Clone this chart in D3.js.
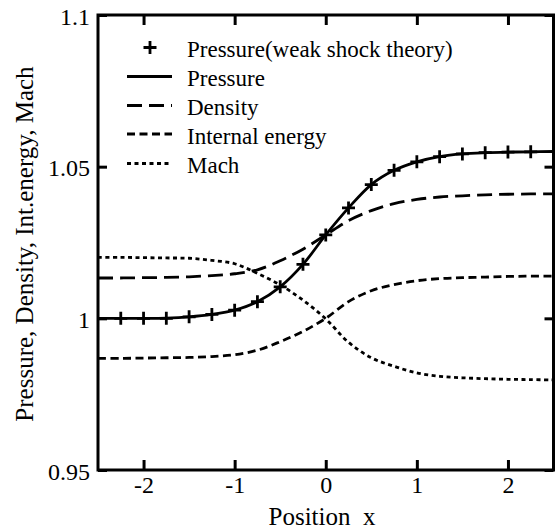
<!DOCTYPE html>
<html>
<head>
<meta charset="utf-8">
<script src="https://cdn.jsdelivr.net/npm/d3@7"></script>
<style>
  html, body { margin: 0; padding: 0; background: #fff; }
  svg { display: block; }
</style>
</head>
<body>
<svg id="chart" width="555" height="529"></svg>
<script>
// ---------- data ----------
const xs = [-2.5, -2.25, -2, -1.75, -1.5, -1.25, -1, -0.75, -0.5, -0.25, 0,
            0.25, 0.5, 0.75, 1, 1.25, 1.5, 1.75, 2, 2.25, 2.5];
const pressure = [1.0, 1.0, 1.0, 1.0001, 1.0005, 1.0013, 1.0027, 1.0055, 1.0104, 1.0178, 1.0275,
                  1.0364, 1.0441, 1.0488, 1.0516, 1.0533, 1.0542, 1.0546, 1.0548, 1.0549, 1.055];
const density = [1.0133, 1.0133, 1.0134, 1.0135, 1.0137, 1.0141, 1.0147, 1.0160, 1.0190, 1.0228, 1.0275,
                 1.0322, 1.0355, 1.0378, 1.0392, 1.0400, 1.0404, 1.0407, 1.0409, 1.0410, 1.0410];
const internalEnergy = [0.9868, 0.9868, 0.9869, 0.9870, 0.9871, 0.9874, 0.9880, 0.9895, 0.9923, 0.9957, 1.0,
                        1.0055, 1.0091, 1.0111, 1.0124, 1.0131, 1.0134, 1.0136, 1.0138, 1.0139, 1.0139];
const mach = [1.0201, 1.0201, 1.0200, 1.0199, 1.0198, 1.0191, 1.0180, 1.0148, 1.0110, 1.0060, 0.9998,
              0.9921, 0.9870, 0.9842, 0.9820, 0.9809, 0.9804, 0.9801, 0.9799, 0.9798, 0.9797];
// weak-shock-theory pressure markers
const markerX = [-2.25, -2, -1.75, -1.5, -1.25, -1, -0.75, -0.5, -0.25, 0,
                 0.25, 0.5, 0.75, 1, 1.25, 1.5, 1.75, 2, 2.25];
const markerP = [1.0, 1.0, 1.0, 1.0005, 1.0013, 1.0027, 1.0055, 1.0104, 1.0178, 1.0275,
                 1.0364, 1.0441, 1.0488, 1.0516, 1.0533, 1.0542, 1.0546, 1.0548, 1.0549];
const xTicks = [-2, -1, 0, 1, 2];
const yTicks = [0.95, 1, 1.05, 1.1];
const yTickLabels = ["0.95", "1", "1.05", "1.1"];
const legendLabels = ["Pressure(weak shock theory)", "Pressure", "Density", "Internal energy", "Mach"];
const xTitle = "Position  x";
const yTitle = "Pressure, Density, Int.energy, Mach";

// ---------- layout ----------
const FONT = "'Liberation Serif', 'Times New Roman', Times, 'DejaVu Serif', serif";
const L = 98, R = 553.5, T = 15, B = 470;
const svg = d3.select("#chart").style("font-family", FONT);
const x = d3.scaleLinear().domain([-2.5, 2.5]).range([L, R]);
const y = d3.scaleLinear().domain([0.95, 1.1]).range([B, T]);

svg.append("defs").append("clipPath").attr("id", "clip")
  .append("rect").attr("x", L).attr("y", T).attr("width", R - L).attr("height", B - T);

const tickFont = 24;

function styleAxis(g) {
  g.attr("font-family", null).attr("font-size", null);
  g.select(".domain").remove();
  g.selectAll(".tick line").attr("stroke", "#000").attr("stroke-width", 3);
  g.selectAll(".tick text").attr("fill", "#000")
    .style("font-size", tickFont + "px").style("font-family", FONT);
}
const fmtY = d => yTickLabels[yTicks.indexOf(d)];
const fmtX = d => (d < 0 ? "-" + Math.abs(d) : String(d));

svg.append("g").attr("transform", `translate(0,${B})`)
  .call(d3.axisBottom(x).tickValues(xTicks).tickFormat(fmtX).tickSizeInner(-10).tickSizeOuter(0).tickPadding(6))
  .call(styleAxis);
svg.append("g").attr("transform", `translate(0,${T})`)
  .call(d3.axisTop(x).tickValues(xTicks).tickFormat("").tickSizeInner(-10).tickSizeOuter(0))
  .call(styleAxis);
svg.append("g").attr("transform", `translate(${L},0)`)
  .call(d3.axisLeft(y).tickValues(yTicks).tickFormat(fmtY).tickSizeInner(-9).tickSizeOuter(0).tickPadding(8))
  .call(styleAxis)
  .call(g => g.selectAll(".tick text").attr("dy", "0.38em"));
svg.append("g").attr("transform", `translate(${R},0)`)
  .call(d3.axisRight(y).tickValues(yTicks).tickFormat("").tickSizeInner(-9).tickSizeOuter(0))
  .call(styleAxis);

// frame
svg.append("rect").attr("x", L).attr("y", T).attr("width", R - L).attr("height", B - T)
  .attr("fill", "none").attr("stroke", "#000").attr("stroke-width", 3);

// curves
const plot = svg.append("g").attr("clip-path", "url(#clip)");
const series = [
  { vals: pressure, dash: null },
  { vals: density, dash: "15,7" },
  { vals: internalEnergy, dash: "8,4.5" },
  { vals: mach, dash: "4,3.5" }
];
const line = d3.line().x(d => x(d[0])).y(d => y(d[1])).curve(d3.curveCatmullRom.alpha(0.5));
series.forEach(s => {
  plot.append("path")
    .datum(xs.map((v, i) => [v, s.vals[i]]))
    .attr("d", line)
    .attr("fill", "none").attr("stroke", "#000").attr("stroke-width", 2.8)
    .attr("stroke-dasharray", s.dash);
});

function plusPath(cx, cy, h) {
  return `M${cx - h},${cy}H${cx + h}M${cx},${cy - h}V${cy + h}`;
}
plot.selectAll("path.mk").data(markerX.map((v, i) => [v, markerP[i]])).join("path")
  .attr("class", "mk")
  .attr("d", d => plusPath(x(d[0]), y(d[1]), 6.5))
  .attr("stroke", "#000").attr("stroke-width", 2.8).attr("fill", "none");

// legend
const legFont = 23;
const leg = svg.append("g");
const rowBase = [57, 86, 115, 143.5, 173];
legendLabels.forEach((lab, i) => {
  const sy = rowBase[i] - 9.5;
  if (i === 0) {
    leg.append("path").attr("d", plusPath(150, sy, 6.5))
      .attr("stroke", "#000").attr("stroke-width", 2.8).attr("fill", "none");
  } else {
    leg.append("line").attr("x1", 127).attr("x2", 172).attr("y1", sy).attr("y2", sy)
      .attr("stroke", "#000").attr("stroke-width", 2.8)
      .attr("stroke-dasharray", series[i - 1].dash);
  }
  leg.append("text").attr("x", 187).attr("y", rowBase[i]).attr("fill", "#000")
    .style("font-family", FONT).style("font-size", legFont + "px").text(lab);
});

// axis titles
svg.append("text").attr("x", 322).attr("y", 525).attr("text-anchor", "middle").attr("fill", "#000")
  .style("font-family", FONT).style("font-size", "25px").style("white-space", "pre").text(xTitle);
svg.append("text").attr("transform", "translate(33,244) rotate(-90)").attr("text-anchor", "middle").attr("fill", "#000")
  .style("font-family", FONT).style("font-size", "25px").text(yTitle);
</script>
</body>
</html>
